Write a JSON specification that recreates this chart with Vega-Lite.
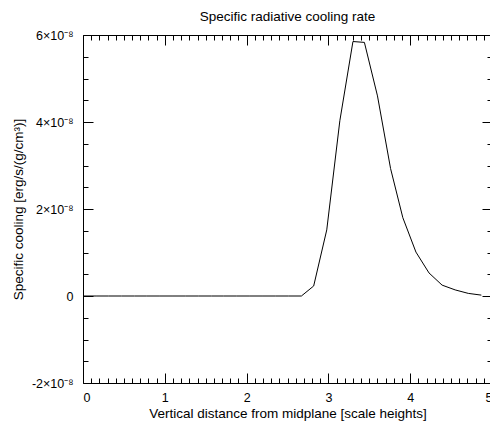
{
  "$schema": "https://vega.github.io/schema/vega-lite/v6.json",
  "width": 409,
  "height": 348,
  "autosize": {"type": "none"},
  "padding": {"left": 83, "top": 35, "right": 0, "bottom": 39},
  "background": "white",
  "title": {"text": "Specific radiative cooling rate", "font": "Liberation Sans", "fontSize": 13.5, "fontWeight": "normal", "color": "black", "offset": 6, "anchor": "middle"},
  "config": {
    "view": {"stroke": "black", "strokeWidth": 1},
    "axis": {"domain": false, "grid": false, "tickColor": "black", "tickWidth": 1, "labelFont": "Liberation Sans", "labelFontSize": 12.5, "labelColor": "black", "titleFont": "Liberation Sans", "titleFontSize": 13.5, "titleFontWeight": "normal", "titleColor": "black"}
  },
  "data": {"values": [
    {"x": 0.0, "y": 0}, {"x": 0.16, "y": 0}, {"x": 0.31, "y": 0}, {"x": 0.47, "y": 0}, {"x": 0.63, "y": 0},
    {"x": 0.78, "y": 0}, {"x": 0.94, "y": 0}, {"x": 1.10, "y": 0}, {"x": 1.25, "y": 0}, {"x": 1.41, "y": 0},
    {"x": 1.57, "y": 0}, {"x": 1.72, "y": 0}, {"x": 1.88, "y": 0}, {"x": 2.04, "y": 0}, {"x": 2.20, "y": 0},
    {"x": 2.35, "y": 0}, {"x": 2.51, "y": 0}, {"x": 2.67, "y": 0.0},
    {"x": 2.82, "y": 0.23e-8}, {"x": 2.98, "y": 1.52e-8}, {"x": 3.14, "y": 4.03e-8}, {"x": 3.30, "y": 5.85e-8},
    {"x": 3.44, "y": 5.83e-8}, {"x": 3.60, "y": 4.6e-8}, {"x": 3.76, "y": 2.93e-8}, {"x": 3.91, "y": 1.8e-8},
    {"x": 4.07, "y": 1.01e-8}, {"x": 4.23, "y": 0.53e-8}, {"x": 4.39, "y": 0.25e-8}, {"x": 4.55, "y": 0.14e-8},
    {"x": 4.71, "y": 0.06e-8}, {"x": 4.87, "y": 0.02e-8}
  ]},
  "layer": [
    {
      "mark": {"type": "line", "color": "black", "strokeWidth": 1},
      "encoding": {
        "x": {"field": "x", "type": "quantitative", "scale": {"domain": [0, 5], "nice": false, "zero": false},
          "axis": {"orient": "bottom", "values": [0, 1, 2, 3, 4, 5], "tickSize": -10, "labelPadding": 18, "format": "d", "title": "Vertical distance from midplane [scale heights]", "titlePadding": 3}},
        "y": {"field": "y", "type": "quantitative", "scale": {"domain": [-2e-8, 6e-8], "nice": false, "zero": false},
          "axis": {"orient": "left", "values": [-2e-8, 0, 2e-8, 4e-8, 6e-8], "tickSize": -10, "labelPadding": 20, "labelExpr": "datum.value == 0 ? '0' : round(datum.value * 1e8) + '×10⁻⁸'", "title": "Specific cooling [erg/s/(g/cm³)]", "titlePadding": 6}}
      }
    },
    {
      "mark": {"type": "line", "opacity": 0},
      "encoding": {
        "x": {"field": "x", "type": "quantitative",
          "axis": {"orient": "bottom", "values": [0.1,0.2,0.3,0.4,0.5,0.6,0.7,0.8,0.9,1.1,1.2,1.3,1.4,1.5,1.6,1.7,1.8,1.9,2.1,2.2,2.3,2.4,2.5,2.6,2.7,2.8,2.9,3.1,3.2,3.3,3.4,3.5,3.6,3.7,3.8,3.9,4.1,4.2,4.3,4.4,4.5,4.6,4.7,4.8,4.9], "tickSize": -5, "labels": false, "title": null}},
        "y": {"field": "y", "type": "quantitative",
          "axis": {"orient": "left", "values": [-1.5e-8,-1e-8,-0.5e-8,0.5e-8,1e-8,1.5e-8,2.5e-8,3e-8,3.5e-8,4.5e-8,5e-8,5.5e-8], "tickSize": -5, "labels": false, "title": null}}
      }
    },
    {
      "mark": {"type": "line", "opacity": 0},
      "encoding": {
        "x": {"field": "x", "type": "quantitative",
          "axis": {"orient": "top", "values": [0, 1, 2, 3, 4, 5], "tickSize": -10, "labels": false, "title": null}},
        "y": {"field": "y", "type": "quantitative",
          "axis": {"orient": "right", "values": [-2e-8, 0, 2e-8, 4e-8, 6e-8], "tickSize": -10, "labels": false, "title": null}}
      }
    },
    {
      "mark": {"type": "line", "opacity": 0},
      "encoding": {
        "x": {"field": "x", "type": "quantitative",
          "axis": {"orient": "top", "values": [0.1,0.2,0.3,0.4,0.5,0.6,0.7,0.8,0.9,1.1,1.2,1.3,1.4,1.5,1.6,1.7,1.8,1.9,2.1,2.2,2.3,2.4,2.5,2.6,2.7,2.8,2.9,3.1,3.2,3.3,3.4,3.5,3.6,3.7,3.8,3.9,4.1,4.2,4.3,4.4,4.5,4.6,4.7,4.8,4.9], "tickSize": -5, "labels": false, "title": null}},
        "y": {"field": "y", "type": "quantitative",
          "axis": {"orient": "right", "values": [-1.5e-8,-1e-8,-0.5e-8,0.5e-8,1e-8,1.5e-8,2.5e-8,3e-8,3.5e-8,4.5e-8,5e-8,5.5e-8], "tickSize": -5, "labels": false, "title": null}}
      }
    }
  ],
  "resolve": {"axis": {"x": "independent", "y": "independent"}}
}
